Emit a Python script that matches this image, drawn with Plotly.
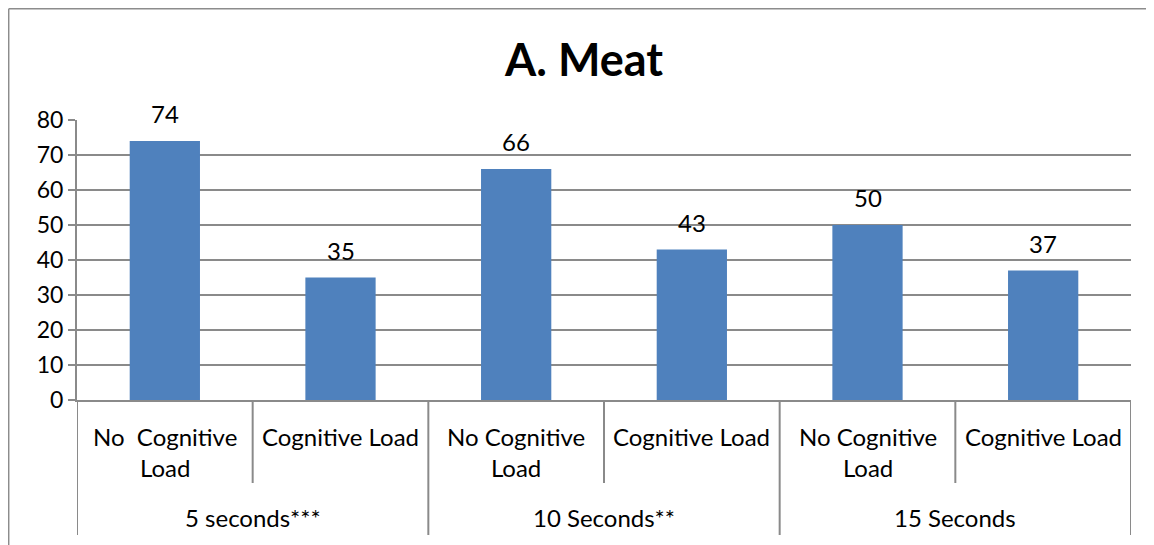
import plotly.graph_objects as go

sub_labels = ["No  Cognitive<br>Load", "Cognitive Load", "No Cognitive<br>Load",
              "Cognitive Load", "No Cognitive<br>Load", "Cognitive Load"]
groups = ["5 seconds***", "10 Seconds**", "15 Seconds"]
values = [74, 35, 66, 43, 50, 37]
y_ticks = [0, 10, 20, 30, 40, 50, 60, 70, 80]

OFF = 8  # page body margin
W, H = 1154, 545
L, R, T, B = 77 - OFF, 1131 - OFF, 120 - OFF, 400 - OFF
pw, ph = R - L, B - T

def px(x):  # screen x -> paper
    return (x - OFF - L) / pw

def py(y):  # screen y -> paper
    return (B - (y - OFF)) / ph

FONT = "Lato"
GRID = "#8a8a8a"

xs = list(range(len(values)))
fig = go.Figure()
fig.add_trace(go.Bar(
    x=xs, y=values, width=0.4, marker=dict(color="#4F81BD", line=dict(width=0)),
    hoverinfo="x+y",
))

shapes = []
for i in range(len(values) + 1):
    xb = i - 0.5
    long = (i % 2 == 0)
    shapes.append(dict(type="line", xref="x", yref="paper", x0=xb, x1=xb,
                       y0=0, y1=py(535 if long else 483),
                       line=dict(color=GRID, width=2)))
# outer border (top and left edges)
shapes.append(dict(type="line", xref="paper", yref="paper", x0=px(8.7), x1=px(1170),
                   y0=py(8.7), y1=py(8.7), line=dict(color="#8c8c8c", width=1.5)))
shapes.append(dict(type="line", xref="paper", yref="paper", x0=px(8.7), x1=px(8.7),
                   y0=py(8.7), y1=py(570), line=dict(color="#8c8c8c", width=1.5)))

annotations = []
for i, v in enumerate(values):
    annotations.append(dict(x=i, xref="x", y=v, yref="y", text=str(v), showarrow=False,
                            yanchor="bottom", xanchor="center", yshift=11,
                            font=dict(family=FONT, size=24, color="black")))
for i, lab in enumerate(sub_labels):
    annotations.append(dict(x=i, xref="x", y=py(420), yref="paper", text=lab,
                            showarrow=False, yanchor="top", xanchor="center",
                            font=dict(family=FONT, size=24, color="black")))
for g, lab in enumerate(groups):
    annotations.append(dict(x=2 * g + 0.5, xref="x", y=py(517), yref="paper", text=lab,
                            showarrow=False, yanchor="middle", xanchor="center",
                            font=dict(family=FONT, size=24, color="black")))

fig.update_layout(
    width=W, height=H,
    margin=dict(l=L, r=W - R, t=T, b=H - B, pad=0),
    paper_bgcolor="white", plot_bgcolor="white",
    title=dict(text="<b>A. Meat</b>", xref="paper", x=px(584), xanchor="center",
               y=1 - (60 - OFF) / H, yanchor="middle",
               font=dict(family=FONT, size=45, color="black")),
    showlegend=False,
    xaxis=dict(range=[-0.5, len(values) - 0.5], showticklabels=False, showgrid=False,
               zeroline=False, showline=True, linecolor=GRID, linewidth=2, ticks=""),
    yaxis=dict(range=[0, 80], tickvals=y_ticks, showgrid=True, gridcolor=GRID, gridwidth=2,
               zeroline=False, showline=True, linecolor=GRID, linewidth=2,
               ticks="outside", ticklen=7, tickcolor=GRID, tickwidth=2,
               tickfont=dict(family=FONT, size=23, color="black")),
    shapes=shapes, annotations=annotations,
)

fig.write_html("out.html")
